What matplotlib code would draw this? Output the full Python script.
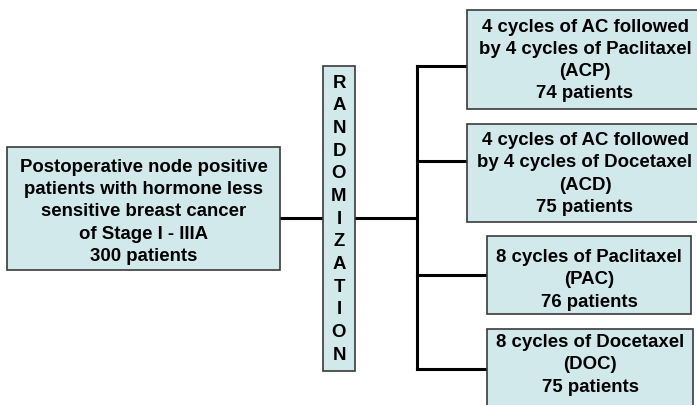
import matplotlib.pyplot as plt
from matplotlib.patches import Rectangle

plt.rcParams['font.family'] = ['Liberation Sans', 'DejaVu Sans']

# box texts
left_label = ["Postoperative node positive",
              "patients with hormone less",
              "sensitive breast cancer",
              "of Stage I - IIIA",
              "300 patients"]
rand_label = "RANDOMIZATION"
arm_labels = [["4 cycles of AC followed", "by 4 cycles of Paclitaxel", "(ACP)", "74 patients"],
              ["4 cycles of AC followed", "by 4 cycles of Docetaxel", "(ACD)", "75 patients"],
              ["8 cycles of Paclitaxel", "(PAC)", "76 patients"],
              ["8 cycles of Docetaxel", "(DOC)", "75 patients"]]

# layout (pixels, y downward)
W, H = 697, 406
left_box = (7, 148, 273, 123)
rand_box = (323, 67, 32, 305)
arm_boxes = [(467, 11, 232, 99),
             (467, 125, 232, 98),
             (487, 237, 204, 78),
             (487, 330, 206, 90)]
arm_text_y = [60.5, 174, 280, 365]
arm_line_y = [67, 162, 276, 370]
branch_x = 417

fill = '#d2e9eb'
edge = '#3a3a3a'
lw_line = 2.2
fs = 13.4
ls = 1.4

fig = plt.figure(figsize=(W / 100, H / 100), dpi=100)
ax = fig.add_axes([0, 0, 1, 1])
ax.set_xlim(0, W)
ax.set_ylim(H, 0)
ax.axis('off')

def box(x, y, w, h):
    ax.add_patch(Rectangle((x, y), w, h, facecolor=fill, edgecolor=edge, lw=1.2, zorder=2))

# connector lines
ax.plot([left_box[0] + left_box[2], rand_box[0]], [219, 219], color='black', lw=lw_line, zorder=1)
ax.plot([rand_box[0] + rand_box[2], branch_x], [219, 219], color='black', lw=lw_line, zorder=1)
ax.plot([branch_x, branch_x], [arm_line_y[0], arm_line_y[-1]], color='black', lw=lw_line,
        solid_capstyle='projecting', zorder=1)
for (bx, by, bw, bh), ly in zip(arm_boxes, arm_line_y):
    ax.plot([branch_x, bx], [ly, ly], color='black', lw=lw_line, solid_capstyle='projecting', zorder=1)

# left box
box(*left_box)
ax.text(left_box[0] + left_box[2] / 2, 212, "\n".join(left_label), ha='center', va='center',
        fontsize=fs, fontweight='bold', linespacing=ls, zorder=3)

# randomization box
box(*rand_box)
for i, ch in enumerate(rand_label):
    ax.text(rand_box[0] + rand_box[2] / 2, 83 + i * 22.7, ch, ha='center', va='center',
            fontsize=fs, fontweight='bold', zorder=3)

# treatment arms
for (bx, by, bw, bh), lines, ty in zip(arm_boxes, arm_labels, arm_text_y):
    box(bx, by, bw, bh)
    cx = bx + min(bw, W - bx) / 2 + (3 if bw > 220 else 0)
    ax.text(cx, ty, "\n".join(lines), ha='center', va='center',
            fontsize=fs, fontweight='bold', linespacing=ls, zorder=3)

fig.savefig('out.png', dpi=100)
